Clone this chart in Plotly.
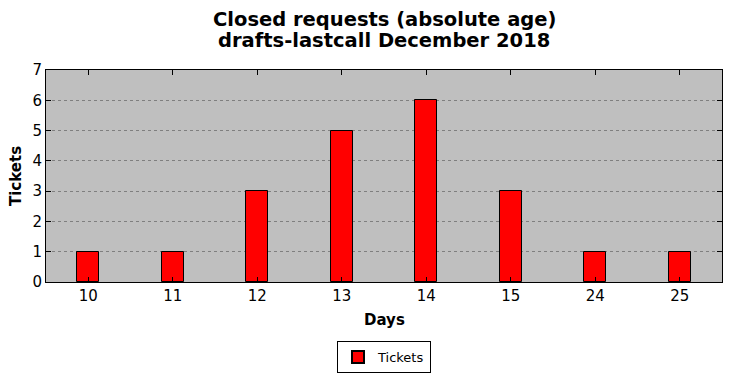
import plotly.graph_objects as go

days = ["10", "11", "12", "13", "14", "15", "24", "25"]
tickets = [1, 1, 3, 5, 6, 3, 1, 1]
title_lines = ["Closed requests (absolute age)", "drafts-lastcall December 2018"]

# plot area in pixels: x 46..722, y 70..282
L, R, T, B = 46, 10, 70, 96
W, H = 732, 378
PW, PH = W - L - R, H - T - B

def py(pix):
    return (H - B - pix) / PH

def px(pix):
    return (pix - L) / PW

fig = go.Figure()
fig.add_trace(go.Bar(
    x=days, y=tickets, name="Tickets",
    marker=dict(color="#ff0000", line=dict(color="black", width=1)),
    width=0.26,
))

annotations = [
    dict(text="<b>%s</b>" % title_lines[0], x=0.5, y=py(19), xref="paper", yref="paper",
         xanchor="center", yanchor="middle", showarrow=False, font=dict(size=19.5)),
    dict(text="<b>%s</b>" % title_lines[1], x=0.5, y=py(41), xref="paper", yref="paper",
         xanchor="center", yanchor="middle", showarrow=False, font=dict(size=19.5)),
    dict(text="<b>Days</b>", x=0.5, y=py(320), xref="paper", yref="paper",
         xanchor="center", yanchor="middle", showarrow=False, font=dict(size=15)),
    dict(text="<b>Tickets</b>", x=px(16), y=py(176), xref="paper", yref="paper",
         xanchor="center", yanchor="middle", showarrow=False, textangle=-90,
         font=dict(size=15)),
]

fig.update_layout(
    width=W, height=H,
    margin=dict(l=L, r=R, t=T, b=B, autoexpand=False),
    paper_bgcolor="white",
    plot_bgcolor="#bfbfbf",
    font=dict(family="DejaVu Sans", color="black", size=12),
    showlegend=True,
    legend=dict(
        orientation="h", x=0.5, xanchor="center", y=py(341), yanchor="top",
        bordercolor="black", borderwidth=1, font=dict(size=13),
        tracegroupgap=0, itemsizing="constant",
    ),
    annotations=annotations,
    bargap=0,
)

fig.update_xaxes(
    type="category", range=[-0.5, 7.5], automargin=False,
    showline=True, linecolor="black", linewidth=1, mirror="ticks",
    ticks="inside", ticklen=5, tickcolor="black",
    showgrid=False, tickfont=dict(size=15),
)
fig.update_yaxes(
    range=[0, 7], dtick=1, automargin=False,
    showline=True, linecolor="black", linewidth=1, mirror="ticks",
    ticks="inside", ticklen=5, tickcolor="black",
    showgrid=True, gridcolor="#7f7f7f", griddash="dot", gridwidth=1,
    zeroline=False, tickfont=dict(size=15),
)

fig.write_html(
    "out.html",
    config={"displayModeBar": False},
    post_script="document.body.style.margin='0';document.body.style.overflow='hidden';",
)
